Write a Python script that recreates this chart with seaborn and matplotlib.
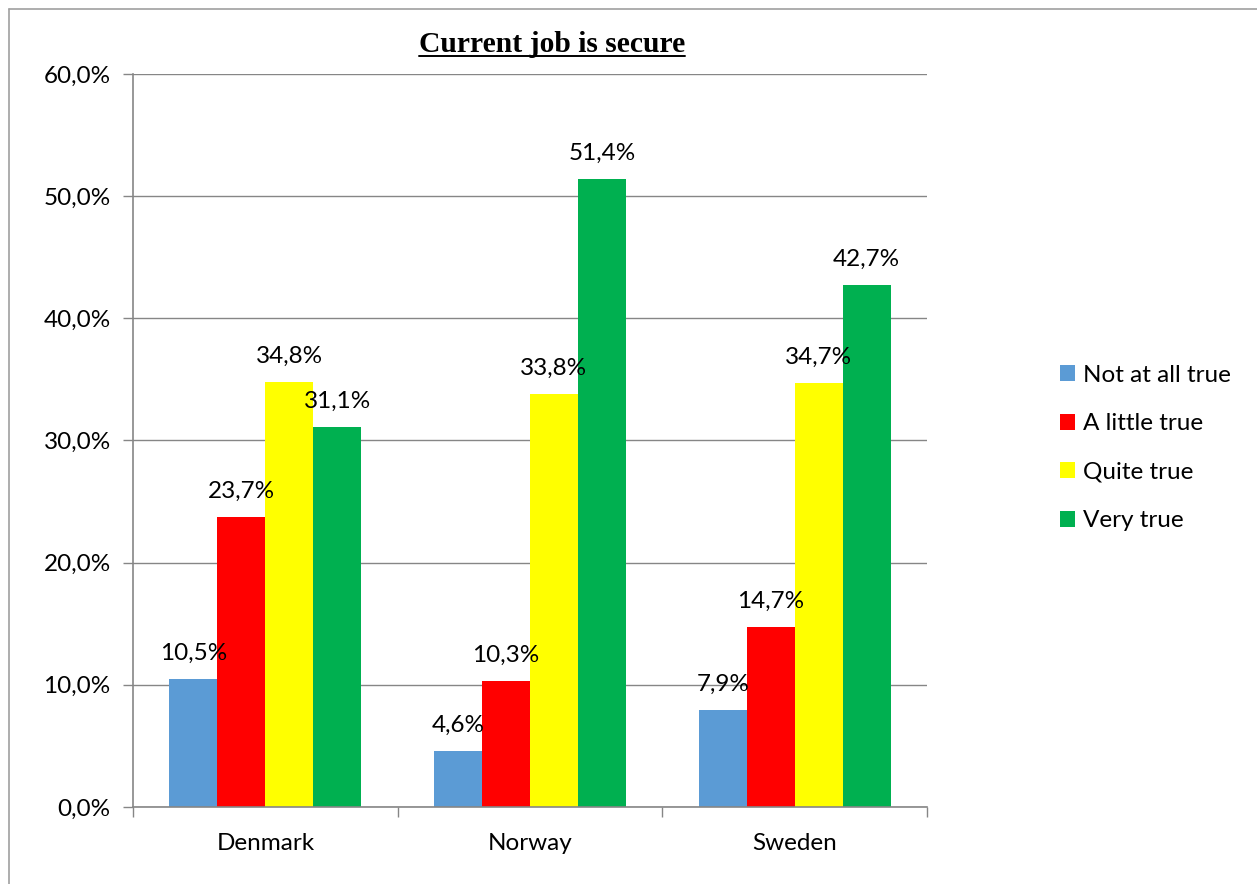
import matplotlib
matplotlib.use("Agg")
import matplotlib.pyplot as plt
import seaborn as sns
import pandas as pd
from matplotlib.lines import Line2D
from matplotlib.ticker import FuncFormatter, MultipleLocator

countries = ["Denmark", "Norway", "Sweden"]
answers = ["Not at all true", "A little true", "Quite true", "Very true"]
not_at_all = [10.5, 4.6, 7.9]
a_little = [23.7, 10.3, 14.7]
quite = [34.8, 33.8, 34.7]
very = [31.1, 51.4, 42.7]
colors = ["#5B9BD5", "#FF0000", "#FFFF00", "#00B050"]

series = [not_at_all, a_little, quite, very]
rows = []
for ans, vals in zip(answers, series):
    for c, v in zip(countries, vals):
        rows.append({"country": c, "answer": ans, "value": v})
df = pd.DataFrame(rows)

sns.set_theme(style="white")
plt.rcParams["font.family"] = ["Lato", "DejaVu Sans"]
plt.rcParams["text.color"] = "black"

FS = 17.5
fig = plt.figure(figsize=(12.57, 8.84), dpi=100)
ax = fig.add_axes([133/1257, 77/884, (927-133)/1257, (807-74)/884])

sns.barplot(data=df, x="country", y="value", hue="answer", order=countries,
            hue_order=answers, palette=colors, width=0.725, saturation=1,
            errorbar=None, ax=ax, linewidth=0, edgecolor="none")

for cont in ax.containers:
    ax.bar_label(cont, labels=[f"{v:.1f}%".replace(".", ",") for v in cont.datavalues],
                 padding=11, fontsize=FS, color="black")

ax.set_ylim(0, 60)
ax.set_xlim(-0.5, 2.5)
ax.yaxis.set_major_locator(MultipleLocator(10))
ax.yaxis.set_major_formatter(FuncFormatter(lambda v, p: f"{v:.1f}%".replace(".", ",")))
ax.set_xlabel("")
ax.set_ylabel("")
ax.grid(axis="y", color="#868686", linewidth=1)
ax.set_axisbelow(True)
for s in ["top", "right"]:
    ax.spines[s].set_visible(False)
for s in ["left", "bottom"]:
    ax.spines[s].set_color("#868686")
    ax.spines[s].set_linewidth(1.2)
ax.tick_params(axis="y", which="major", left=True, length=7, width=1, color="#868686",
               labelsize=FS, pad=9, labelcolor="black")
ax.set_xticks([0, 1, 2])
ax.set_xticklabels(countries, fontsize=FS, color="black")
ax.tick_params(axis="x", which="major", bottom=False, pad=13)
ax.set_xticks([-0.5, 0.5, 1.5, 2.5], minor=True)
ax.tick_params(axis="x", which="minor", bottom=True, length=7, width=1, color="#868686")

ax.set_title("Current job is secure", fontsize=21.3, fontweight="bold", color="black",
             family="Liberation Serif", pad=16, x=(552-133)/794)
t = ax.title
fig.canvas.draw()
bb = t.get_window_extent()
fig.add_artist(Line2D([bb.x0/1257, bb.x1/1257], [(bb.y0 + 2)/884, (bb.y0 + 2)/884],
                      color="black", linewidth=1.4, transform=fig.transFigure))

leg = ax.legend(loc="center left", bbox_to_anchor=(1048/1257, 1 - 448/884),
                bbox_transform=fig.transFigure, frameon=False,
                fontsize=FS, handlelength=0.62, handleheight=0.62, handletextpad=0.3,
                labelspacing=1.13, borderpad=0)
for txt in leg.get_texts():
    txt.set_color("black")

fig.add_artist(Line2D([9/1257, 9/1257], [0, 1 - 9/884], color="#A0A0A0", linewidth=1.2,
                      transform=fig.transFigure))
fig.add_artist(Line2D([9/1257, 1], [1 - 9/884, 1 - 9/884], color="#A0A0A0", linewidth=1.2,
                      transform=fig.transFigure))

fig.savefig("out.png", dpi=100)
